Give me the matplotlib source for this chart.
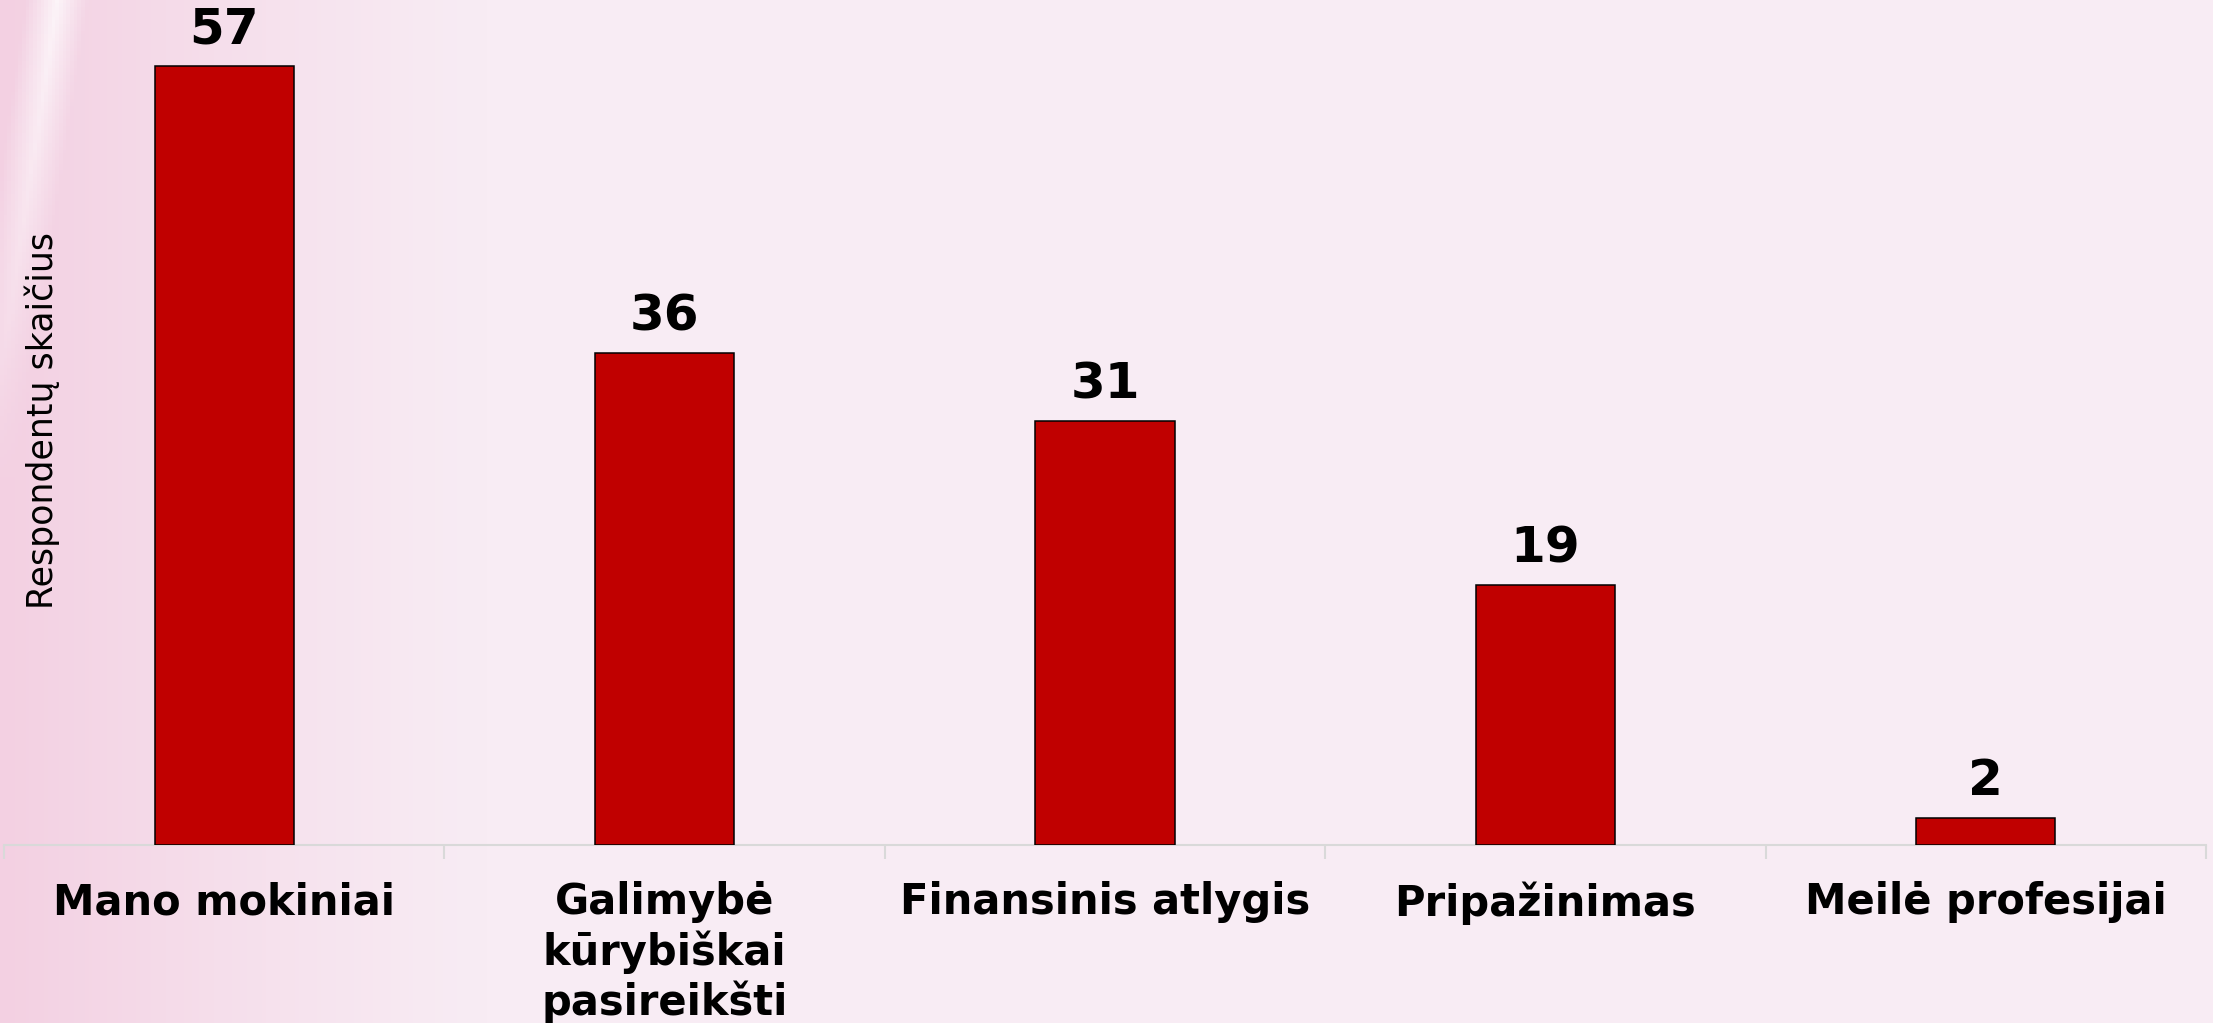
import numpy as np
import matplotlib
matplotlib.use('Agg')
import matplotlib.pyplot as plt

# data
categories = ['Mano mokiniai', 'Galimybė\nkūrybiškai\npasireikšti', 'Finansinis atlygis',
              'Pripažinimas', 'Meilė profesijai']
respondents = [57, 36, 31, 19, 2]
ylabel = 'Respondentų skaičius'

bar_color = '#C00000'
bg_color = '#F8ECF4'

W, H = 2213, 1023
fig = plt.figure(figsize=(W / 100, H / 100), dpi=100, facecolor=bg_color)

# background: pink wash on the left side with a pale diagonal streak
bg = fig.add_axes([0, 0, 1, 1], zorder=-10)
xx, yy = np.meshgrid(np.linspace(0, 1, 600), np.linspace(0, 1, 300))
base = np.array([248, 236, 244]) / 255
pink = np.array([243, 208, 226]) / 255
t = np.clip(1 - xx / 0.22, 0, 1) ** 1.2
img = base[None, None, :] * (1 - t[..., None]) + pink[None, None, :] * t[..., None]
# whitish streak near top-left, running down to the left edge
streak_x = 0.025 - 0.07 * yy
d = np.abs(xx - streak_x)
s = np.clip(1 - d / 0.014, 0, 1) * np.clip(1 - yy / 0.5, 0, 1) * 0.75
img = img * (1 - s[..., None]) + np.array([1, 1, 1])[None, None, :] * s[..., None]
bg.imshow(img, extent=[0, 1, 0, 1], aspect='auto', origin='upper')
bg.axis('off')

ax = fig.add_axes([4 / W, (H - 845) / H, 2202 / W, 845 / H])
ax.patch.set_alpha(0)

x = np.arange(len(categories))
bars = ax.bar(x, respondents, width=0.316, color=bar_color, edgecolor='black', linewidth=1.1, zorder=3)

for xi, v in zip(x, respondents):
    ax.annotate(str(v), (xi, v), xytext=(0, 16), textcoords='offset points',
                ha='center', va='baseline', fontsize=36, fontweight='bold', color='black')

ax.set_xlim(-0.5, len(categories) - 0.5)
ax.set_ylim(0, 61.8)

ax.set_xticks(x)
ax.set_xticklabels(categories, fontsize=30, fontweight='bold', linespacing=1.2)
ax.tick_params(axis='x', which='major', length=0, pad=26)
ax.set_xticks(np.arange(-0.5, len(categories)), minor=True)
ax.tick_params(axis='x', which='minor', length=10, width=1.5, color='#D9D9D9')
ax.set_yticks([])

for side in ['top', 'right', 'left']:
    ax.spines[side].set_visible(False)
ax.spines['bottom'].set_color('#D9D9D9')
ax.spines['bottom'].set_linewidth(1.5)

fig.text(42 / W, 1 - 420 / H, ylabel, rotation=90, ha='center', va='center', fontsize=25)

fig.savefig('out.png', dpi=100, facecolor=bg_color)
